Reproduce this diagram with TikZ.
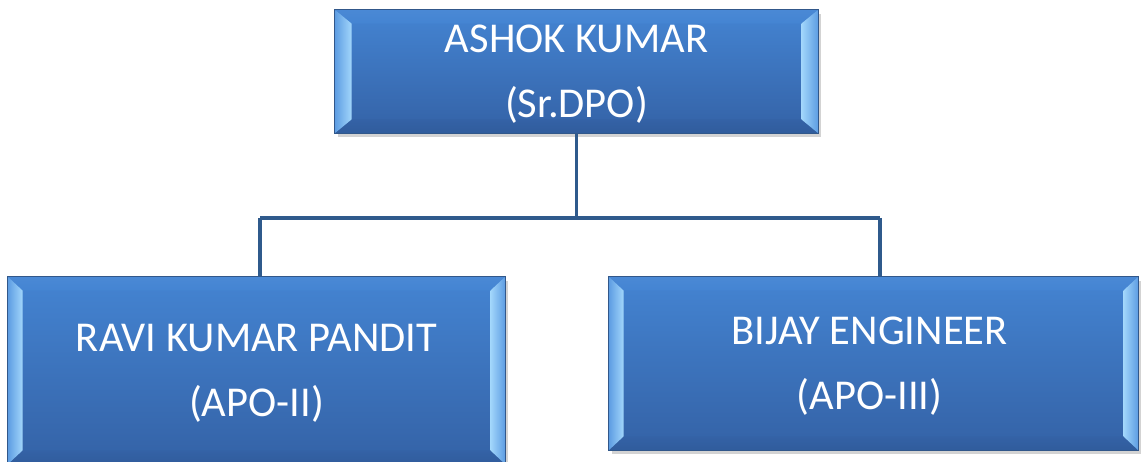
\documentclass[tikz,border=0pt]{standalone}
\usepackage{fontspec}
\setmainfont{Carlito}
\usetikzlibrary{calc,shadows}
\definecolor{boxtop}{HTML}{4484D2}
\definecolor{boxbot}{HTML}{3462A6}
\definecolor{boxedge}{HTML}{31578A}
\definecolor{bevin}{HTML}{A2D6FB}
\definecolor{bevout}{HTML}{5C9CE2}
\definecolor{bevtop}{HTML}{4A89D5}
\definecolor{bevbot}{HTML}{305C9C}
\definecolor{linkcol}{HTML}{2F5A8C}
\tikzset{
  orgbox/.style={rectangle, inner sep=0pt, text=white, align=center,
    top color=boxtop, bottom color=boxbot,
    draw=boxedge, line width=0.8pt,
    drop shadow={shadow xshift=3pt, shadow yshift=-4pt, opacity=.35}},
  orgtext/.style={text=white, align=center, inner sep=0pt,
    font=\fontsize{42.5}{65}\selectfont},
  link/.style={draw=linkcol, line width=3.2pt}
}
\newcommand\bevelize[3]{%
  \shade[top color=bevtop, bottom color=boxtop]
    (#1.north west) -- ($(#1.north west)+(#2,-#3)$) -- ($(#1.north east)+(-#2,-#3)$) -- (#1.north east) -- cycle;
  \shade[top color=boxbot, bottom color=bevbot]
    (#1.south west) -- ($(#1.south west)+(#2,#3)$) -- ($(#1.south east)+(-#2,#3)$) -- (#1.south east) -- cycle;
  \shade[left color=bevout, right color=bevin]
    (#1.north west) -- ($(#1.north west)+(#2,-#3)$) -- ($(#1.south west)+(#2,#3)$) -- (#1.south west) -- cycle;
  \shade[left color=bevin, right color=bevout]
    (#1.north east) -- ($(#1.north east)+(-#2,-#3)$) -- ($(#1.south east)+(-#2,#3)$) -- (#1.south east) -- cycle;
  \draw[boxedge, line width=0.8pt] (#1.north west) rectangle (#1.south east);
}
\begin{document}
\begin{tikzpicture}[x=1pt,y=1pt]
\useasboundingbox (0,0) rectangle (1141,462);
\coordinate (hl) at (260,244);
\coordinate (hr) at (880,244);
\coordinate (hm) at (576.5,244);
\node[orgbox, minimum width=483pt, minimum height=123pt] (top) at (576.5,390.5) {};
\node[orgbox, minimum width=497pt, minimum height=187pt] (left) at (256.5,91.5) {};
\node[orgbox, minimum width=529pt, minimum height=173pt] (right) at (873.5,98.5) {};
\draw[link] (top.south) -- (hm);
\draw[link] (hl) -- (hr);
\draw[link] (hl) -- (hl |- left.north);
\draw[link] (hr) -- (hr |- right.north);
\bevelize{top}{17}{14}
\bevelize{left}{15}{14}
\bevelize{right}{15}{14}
\node[orgtext] (toptext) at ($(top.center)+(0,-3)$) {ASHOK KUMAR\\(Sr.DPO)};
\node[orgtext] (lefttext) at ($(left.center)+(0,-3)$) {RAVI KUMAR PANDIT\\(APO-II)};
\node[orgtext] (righttext) at ($(right.center)+(-4,-3)$) {BIJAY ENGINEER\\(APO-III)};
\end{tikzpicture}
\end{document}
